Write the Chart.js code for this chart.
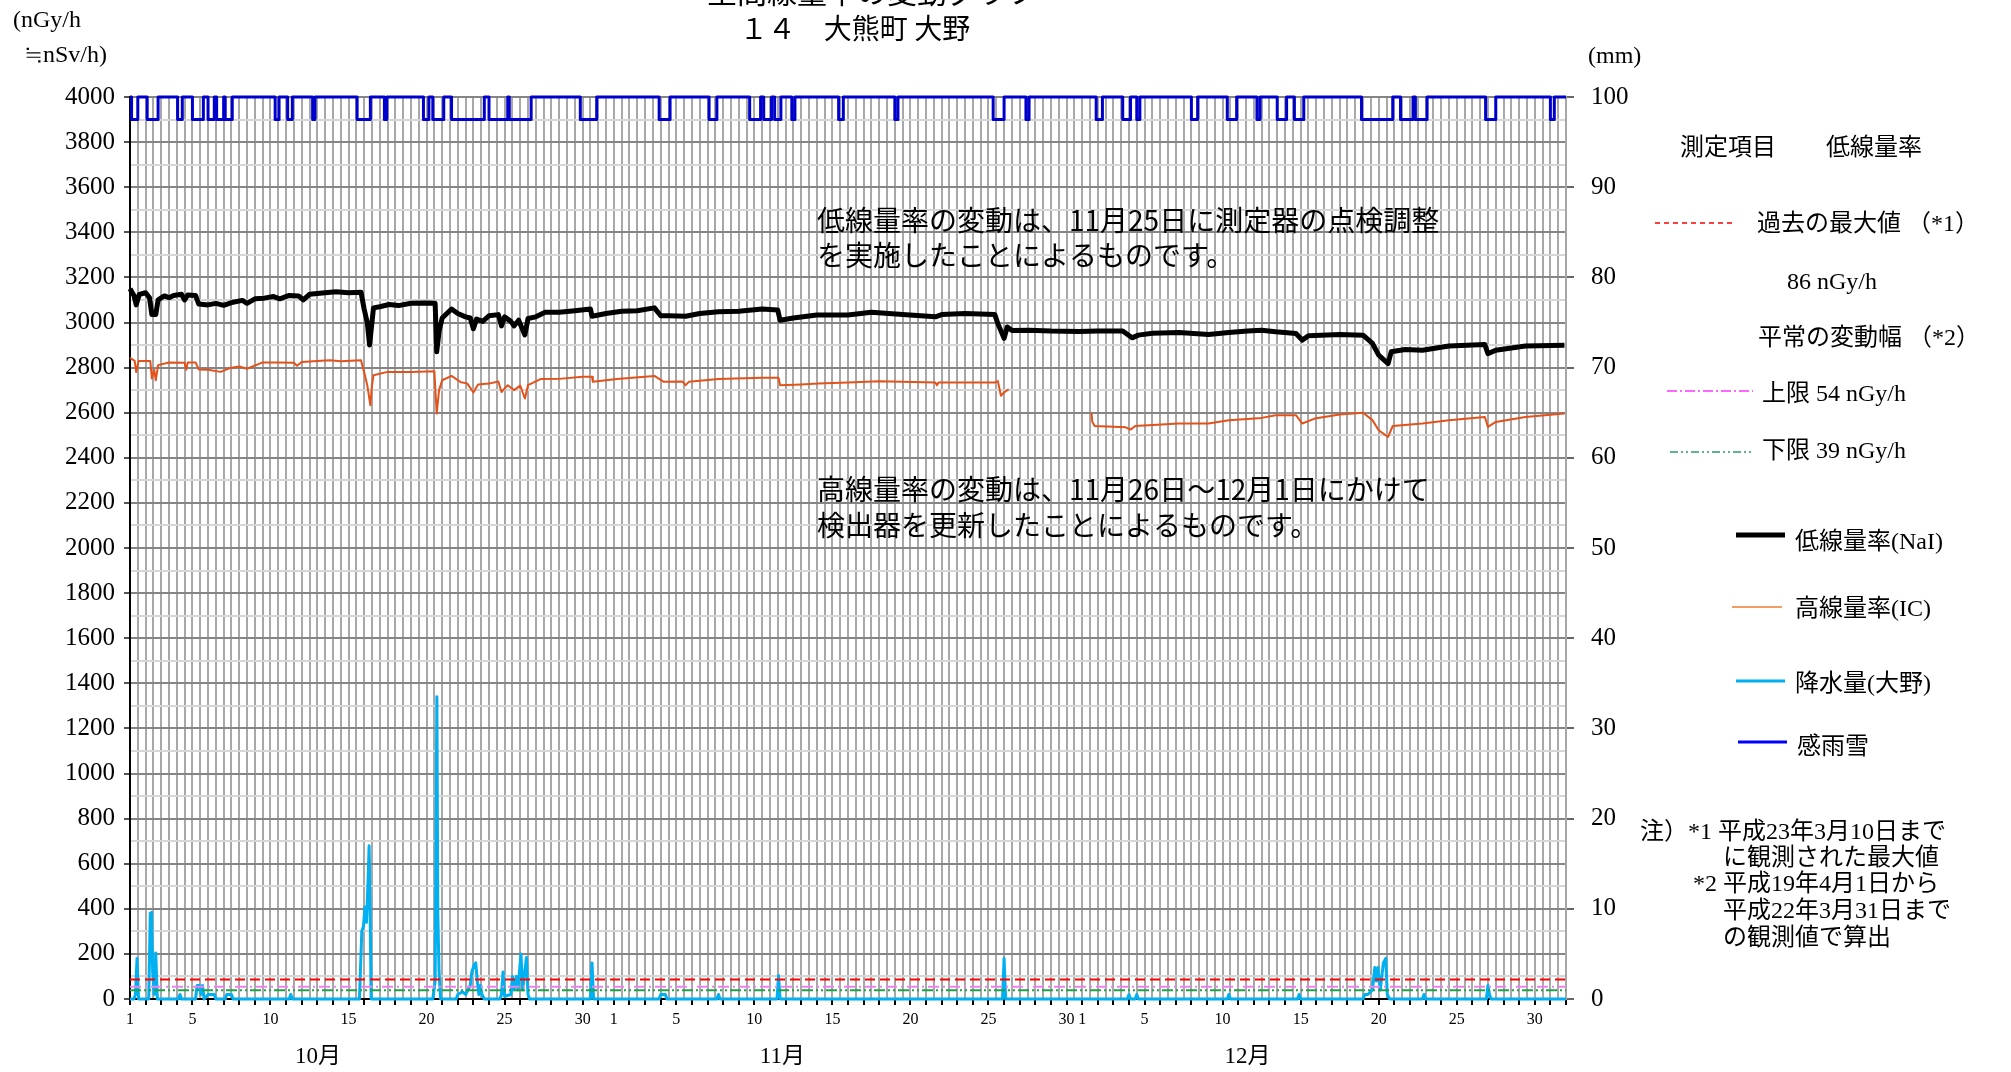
<!DOCTYPE html>
<html lang="ja">
<head>
<meta charset="utf-8">
<title>空間線量率の変動グラフ 14 大熊町 大野</title>
<script src="https://cdn.jsdelivr.net/npm/chart.js@4.4.1/dist/chart.umd.min.js"></script>
<style>
  html, body { margin: 0; padding: 0; background: #fff; }
  #wrap { width: 2011px; height: 1072px; }
</style>
</head>
<body>
<div id="wrap"><canvas id="doseChart" width="2011" height="1072"></canvas></div>
<script>
// x = 10月1日0時からの経過日数
const monthNames = ['10月', '11月', '12月'];
const monthStarts = [0, 31, 61];
const dayLabels = [1, 5, 10, 15, 20, 25, 30];

// 低線量率(NaI) nGy/h
const nalSeries = [
  [0, 3150], [0.25, 3120], [0.4, 3078], [0.6, 3125], [1.0, 3132], [1.25, 3110], [1.4, 3035], [1.65, 3035],
  [1.8, 3100], [2.2, 3118], [2.5, 3110], [2.8, 3120], [3.3, 3125], [3.5, 3100], [3.7, 3122], [4.2, 3120], [4.4, 3082],
  [5.0, 3078], [5.5, 3085], [6.0, 3076], [6.6, 3090], [7.2, 3098], [7.5, 3085], [8.0, 3105], [8.6, 3108],
  [9.2, 3115], [9.6, 3105], [10.2, 3120], [10.8, 3118], [11.1, 3100], [11.5, 3125], [12.5, 3132], [13.2, 3136],
  [14.0, 3132], [14.8, 3134], [15.0, 3060], [15.2, 3000], [15.35, 2900], [15.5, 3000], [15.6, 3065], [16.0, 3070],
  [16.6, 3080], [17.2, 3075], [18.0, 3085], [19.0, 3086], [19.55, 3085], [19.65, 2870], [19.8, 2960], [20.0, 3020],
  [20.6, 3060], [21.0, 3040], [21.5, 3025], [21.8, 3020], [22.0, 2972], [22.2, 3015], [22.6, 3005], [23.0, 3030],
  [23.6, 3035], [23.8, 2985], [24.0, 3025], [24.4, 3005], [24.6, 2985], [24.9, 3010], [25.3, 2945], [25.5, 3018],
  [26.0, 3025], [26.6, 3045], [27.5, 3045], [28.5, 3052], [29.5, 3060], [29.6, 3028], [30.5, 3040], [31.5, 3050],
  [32.5, 3052], [33.6, 3065], [34.0, 3030], [34.5, 3030], [35.6, 3028], [36.5, 3040], [37.7, 3048], [39.0, 3050],
  [40.5, 3060], [41.5, 3055], [41.65, 3010], [42.5, 3020], [44.0, 3033], [46.0, 3033], [47.5, 3045], [49.5, 3035],
  [51.6, 3025], [52.0, 3035], [53.5, 3040], [55.4, 3036], [55.6, 2995], [56.0, 2930], [56.2, 2980], [56.5, 2965],
  [57.6, 2966], [59.0, 2962], [60.8, 2960], [62.0, 2962], [63.6, 2962], [64.2, 2932], [64.6, 2944], [65.5, 2952],
  [67.2, 2956], [69.1, 2947], [70.4, 2956], [71.6, 2962], [72.5, 2966], [73.4, 2959], [74.7, 2951], [75.1, 2922],
  [75.5, 2941], [77.5, 2947], [79.0, 2944], [79.6, 2907], [80.0, 2855], [80.6, 2818], [80.8, 2870], [81.7, 2880],
  [82.8, 2877], [84.5, 2896], [86.8, 2902], [87.0, 2862], [87.5, 2877], [89.4, 2896], [91.9, 2899]
];

// 高線量率(IC) nGy/h  (null = 欠測)
const icSeries = [
  [0, 2843], [0.3, 2830], [0.4, 2780], [0.55, 2829], [1.3, 2829], [1.4, 2752], [1.55, 2790], [1.65, 2744],
  [1.8, 2811], [2.5, 2823], [3.5, 2822], [3.6, 2790], [3.7, 2823], [4.2, 2823], [4.4, 2792], [5.0, 2790],
  [5.8, 2781], [6.4, 2798], [7.0, 2805], [7.5, 2795], [8.5, 2823], [9.5, 2823], [10.5, 2822], [10.7, 2808],
  [11.0, 2825], [12.0, 2829], [12.8, 2833], [13.5, 2828], [14.8, 2833], [15.0, 2780], [15.2, 2722], [15.4, 2633],
  [15.5, 2720], [15.6, 2766], [16.5, 2781], [18.0, 2781], [19.5, 2784], [19.65, 2596], [19.8, 2700], [20.0, 2744],
  [20.6, 2763], [21.2, 2735], [21.6, 2730], [22.0, 2690], [22.3, 2725], [23.0, 2729], [23.6, 2738], [23.8, 2692],
  [24.2, 2722], [24.6, 2700], [25.0, 2720], [25.3, 2663], [25.5, 2722], [26.3, 2749], [27.5, 2750], [29.0, 2759],
  [29.6, 2759], [29.65, 2737], [31.2, 2749], [33.6, 2763], [34.2, 2737], [35.4, 2738], [35.6, 2722], [35.8, 2737],
  [37.7, 2749], [40.5, 2755], [41.55, 2755], [41.65, 2722], [43.0, 2725], [44.1, 2729], [46.0, 2734], [48.0, 2740],
  [51.6, 2734], [51.7, 2722], [51.8, 2734], [55.4, 2734], [55.6, 2740], [55.8, 2675], [56.0, 2690], [56.3, 2704],
  [59.0, null],
  [61.6, 2600], [61.65, 2560], [61.8, 2541], [63.8, 2535], [64.1, 2525], [64.4, 2541], [67.2, 2552], [69.1, 2552],
  [70.4, 2567], [72.5, 2577], [73.4, 2589], [74.7, 2589], [75.1, 2552], [75.9, 2574], [77.5, 2592], [79.0, 2600],
  [79.6, 2567], [80.0, 2522], [80.6, 2493], [80.9, 2541], [82.8, 2552], [84.5, 2567], [86.8, 2581], [87.0, 2537],
  [87.5, 2559], [89.4, 2581], [91.9, 2596]
];

// 降水量(大野) mm
const rainSeries = [
  [0, 0], [0.25, 0], [0.35, 0.5], [0.45, 4.5], [0.55, 0], [1.2, 0], [1.3, 9.5], [1.38, 9.6], [1.45, 3],
  [1.55, 0.5], [1.65, 5.1], [1.75, 0], [3.1, 0], [3.2, 0.5], [3.3, 0], [4.2, 0], [4.3, 1.5], [4.45, 1.5],
  [4.55, 0.5], [4.65, 1.5], [4.75, 0], [5.0, 0.5], [5.4, 0.5], [5.5, 0], [6.1, 0], [6.2, 0.5], [6.5, 0.5],
  [6.6, 0], [10.2, 0], [10.3, 0.5], [10.4, 0], [14.7, 0], [14.85, 7.5], [14.95, 8], [15.06, 10.2], [15.15, 8.5],
  [15.25, 13], [15.32, 17], [15.38, 10], [15.45, 0], [19.4, 0], [19.55, 2], [19.66, 33.5], [19.72, 9.5],
  [19.8, 3], [19.9, 0], [20.9, 0], [21.0, 0.5], [21.3, 0.8], [21.5, 0.5], [21.8, 1.5], [21.9, 3], [22.05, 3.8],
  [22.15, 4], [22.25, 2], [22.35, 0.5], [22.45, 1.5], [22.55, 0.5], [22.7, 0], [23.7, 0], [23.8, 0.5], [23.9, 3],
  [24.0, 0.3], [24.4, 0.5], [24.5, 2.5], [24.6, 1], [24.75, 2.5], [24.85, 1], [25.05, 5], [25.15, 1], [25.4, 4.6],
  [25.5, 0.5], [25.6, 0], [29.5, 0], [29.6, 4], [29.7, 0], [33.9, 0], [34.0, 0.5], [34.3, 0.5], [34.4, 0],
  [37.6, 0], [37.7, 0.5], [37.8, 0], [41.45, 0], [41.55, 2.6], [41.65, 0], [55.9, 0], [56.0, 4.5], [56.1, 0],
  [63.9, 0], [64.0, 0.5], [64.1, 0], [64.4, 0], [64.5, 0.5], [64.6, 0], [70.3, 0], [70.4, 0.5], [70.5, 0],
  [74.8, 0], [74.9, 0.5], [75.0, 0], [79.0, 0], [79.1, 0.5], [79.3, 0.5], [79.6, 1], [79.75, 3.5], [79.85, 2],
  [79.95, 3.5], [80.1, 1], [80.3, 4], [80.45, 4.5], [80.55, 0.5], [80.7, 0], [82.8, 0], [82.9, 0.5], [83.0, 0],
  [86.9, 0], [87.0, 1.5], [87.1, 0.5], [87.2, 0], [92, 0]
];

// 感雨雪 (感雨のあった期間)
const sensorHigh = 100;
const sensorLow = 97.5;
const sensorIntervals = [
  [0.1, 0.5], [1.1, 1.8], [3.05, 3.35], [4.0, 4.7], [5.0, 5.4], [5.55, 6.0], [6.1, 6.55], [9.3, 9.55],
  [10.1, 10.4], [11.7, 11.85], [14.55, 15.4], [16.3, 16.45], [18.8, 19.15], [19.4, 20.1], [20.6, 22.7],
  [23.0, 24.2], [24.3, 25.7], [28.85, 29.9], [33.9, 34.6], [37.1, 37.6], [39.7, 40.4], [40.6, 41.1],
  [41.3, 41.7], [42.4, 42.6], [45.4, 45.7], [49.0, 49.2], [55.3, 56.0], [57.4, 57.6], [61.9, 62.3],
  [63.6, 64.1], [64.5, 64.7], [68.0, 68.4], [70.3, 70.9], [72.2, 72.4], [73.5, 74.1], [74.6, 75.2],
  [78.9, 80.9], [81.4, 82.2], [82.35, 83.1], [86.85, 87.5], [91.0, 91.25]
];

// 基準値 nGy/h
const pastMax = 86;
const normalUpper = 54;
const normalLower = 39;

const legendHeader = ['測定項目', '低線量率'];
const legendTexts = ['過去の最大値 （*1）', '86 nGy/h', '平常の変動幅 （*2）', '上限 54 nGy/h', '下限 39 nGy/h',
  '低線量率(NaI)', '高線量率(IC)', '降水量(大野)', '感雨雪'];
const noteLines = ['注）*1 平成23年3月10日まで', 'に観測された最大値', '*2 平成19年4月1日から',
  '平成22年3月31日まで', 'の観測値で算出'];
const commentLines = ['低線量率の変動は、11月25日に測定器の点検調整', 'を実施したことによるものです。',
  '高線量率の変動は、11月26日～12月1日にかけて', '検出器を更新したことによるものです。'];

const DAYS = 92;
const serif = "'Liberation Serif', 'Noto Sans CJK JP', serif";
const gothic = "'Noto Sans CJK JP', sans-serif";

const toXY = arr => arr.map(p => ({ x: p[0], y: p[1] }));

const sensorData = [{ x: 0, y: sensorHigh }];
sensorIntervals.forEach(([s, e]) => {
  sensorData.push({ x: s, y: sensorHigh }, { x: s, y: sensorLow }, { x: e, y: sensorLow }, { x: e, y: sensorHigh });
});
sensorData.push({ x: DAYS, y: sensorHigh });

const flat = v => [{ x: 0, y: v }, { x: DAYS, y: v }];

function dayOfMonth(v) {
  for (let i = monthStarts.length - 1; i >= 0; i--) {
    if (v >= monthStarts[i]) return v - monthStarts[i] + 1;
  }
  return null;
}

const textPlugin = {
  id: 'texts',
  afterDraw(chart) {
    const c = chart.ctx;
    c.save();
    c.fillStyle = '#000';

    // タイトル
    c.textAlign = 'center';
    c.font = '30px ' + gothic;
    c.textBaseline = 'ideographic';
    c.fillText('空間線量率の変動グラフ', 872, 7);
    c.textBaseline = 'middle';
    c.font = '28px ' + gothic;
    c.fillText('１４　大熊町 大野', 855, 28);

    // 単位
    c.textAlign = 'left';
    c.font = '24px ' + serif;
    c.fillText('(nGy/h', 13, 21);
    c.fillText('≒nSv/h)', 24, 56);
    c.fillText('(mm)', 1588, 57);

    // 月
    const xs = chart.scales.x;
    c.textAlign = 'center';
    c.font = '23px ' + serif;
    [12.05, 41.8, 71.6].forEach((d, i) => c.fillText(monthNames[i], xs.getPixelForValue(d), 1057));

    // 注記(グラフ内)
    c.textAlign = 'left';
    c.font = '28px ' + gothic;
    [220, 255, 489, 525].forEach((y, i) => c.fillText(commentLines[i], 817, y));

    // 凡例
    c.font = '24px ' + serif;
    c.fillText(legendHeader[0], 1680, 149);
    c.fillText(legendHeader[1], 1826, 149);
    const pos = [[1757, 225], [1787, 283], [1758, 339], [1762, 395], [1762, 452],
      [1795, 543], [1795, 610], [1795, 685], [1797, 748]];
    legendTexts.forEach((t, i) => c.fillText(t, pos[i][0], pos[i][1]));

    const swatch = (x1, x2, y, color, w, dash) => {
      c.beginPath();
      c.strokeStyle = color;
      c.lineWidth = w;
      c.setLineDash(dash || []);
      c.moveTo(x1, y);
      c.lineTo(x2, y);
      c.stroke();
    };
    swatch(1655, 1735, 223, '#ff0000', 1.5, [5, 4]);
    swatch(1667, 1753, 391, '#ff33ff', 1.5, [10, 3, 2, 3]);
    swatch(1670, 1754, 452, '#2e9a6a', 1.5, [8, 3, 2, 3, 2, 3]);
    swatch(1736, 1785, 535, '#000000', 5);
    swatch(1732, 1782, 607, '#ed7d31', 1.5);
    swatch(1736, 1785, 681, '#00b0f0', 3);
    swatch(1738, 1787, 742, '#0000ff', 3);
    c.setLineDash([]);

    // 脚注
    c.font = '24px ' + serif;
    const np = [[1640, 833], [1723, 859], [1693, 885], [1723, 912], [1723, 939]];
    noteLines.forEach((t, i) => c.fillText(t, np[i][0], np[i][1]));
    c.restore();
  }
};

new Chart(document.getElementById('doseChart'), {
  type: 'line',
  data: {
    datasets: [
      { label: '感雨雪', data: sensorData, yAxisID: 'y2', borderColor: '#0000cc', borderWidth: 3, order: 0 },
      { label: '低線量率(NaI)', data: toXY(nalSeries), yAxisID: 'y', borderColor: '#000000', borderWidth: 5, order: 1 },
      { label: '高線量率(IC)', data: toXY(icSeries), yAxisID: 'y', borderColor: '#e4521b', borderWidth: 2, order: 2, spanGaps: false },
      { label: '過去の最大値', data: flat(pastMax), yAxisID: 'y', borderColor: '#ff0000', borderWidth: 2, borderDash: [10, 5], order: 3 },
      { label: '上限', data: flat(normalUpper), yAxisID: 'y', borderColor: '#f080f0', borderWidth: 2, borderDash: [11, 4, 2, 4], order: 4 },
      { label: '下限', data: flat(normalLower), yAxisID: 'y', borderColor: '#1fa34a', borderWidth: 2, borderDash: [11, 3, 2, 3, 2, 3], order: 5 },
      { label: '降水量(大野)', data: toXY(rainSeries), yAxisID: 'y2', borderColor: '#00b0f0', borderWidth: 3, order: 6 }
    ]
  },
  options: {
    responsive: false,
    animation: false,
    devicePixelRatio: 1,
    events: [],
    layout: { padding: { left: 0, right: 345, top: 97, bottom: 0 } },
    elements: {
      point: { radius: 0 },
      line: { tension: 0, fill: false, borderCapStyle: 'butt', borderJoinStyle: 'round' }
    },
    datasets: { line: { clip: false } },
    plugins: { legend: { display: false }, tooltip: { enabled: false } },
    scales: {
      x: {
        type: 'linear',
        min: 0,
        max: DAYS,
        afterBuildTicks: s => {
          s.ticks = [];
          for (let i = 0; i <= DAYS * 2; i++) s.ticks.push({ value: i / 2 });
        },
        afterFit: s => { s.height = 73; },
        ticks: {
          autoSkip: false,
          maxRotation: 0,
          padding: 5,
          color: '#000',
          font: { family: serif, size: 16 },
          callback: v => {
            if (!Number.isInteger(v)) return '';
            const d = dayOfMonth(v);
            return dayLabels.includes(d) && v < DAYS ? String(d) : '';
          }
        },
        grid: {
          color: '#a8a8a8',
          lineWidth: 2,
          tickLength: 6,
          tickWidth: 2,
          tickColor: ctx => (ctx.tick && Number.isInteger(ctx.tick.value) ? '#000' : 'rgba(0,0,0,0)')
        },
        border: { color: '#000', width: 2 }
      },
      y: {
        position: 'left',
        min: 0,
        max: 4000,
        afterBuildTicks: s => {
          s.ticks = [];
          for (let v = 0; v <= 4000; v += 100) s.ticks.push({ value: v });
        },
        afterFit: s => { s.width = 130; },
        ticks: {
          autoSkip: false,
          padding: 9,
          color: '#000',
          font: { family: serif, size: 25 },
          callback: v => (v % 200 === 0 ? String(v) : '')
        },
        grid: {
          color: ctx => (ctx.tick && ctx.tick.value % 200 === 0 ? '#858585' : '#d6d6d6'),
          lineWidth: 2,
          tickLength: 6,
          tickColor: ctx => (ctx.tick && ctx.tick.value % 200 === 0 ? '#555' : 'rgba(0,0,0,0)')
        },
        border: { color: '#000', width: 2 }
      },
      y2: {
        position: 'right',
        min: 0,
        max: 100,
        afterFit: s => { s.width = 100; },
        ticks: {
          stepSize: 10,
          padding: 17,
          color: '#000',
          font: { family: serif, size: 25 }
        },
        grid: { drawOnChartArea: false, tickLength: 8, tickColor: '#666', lineWidth: 2 },
        border: { color: '#a6a6a6', width: 2 }
      }
    }
  },
  plugins: [textPlugin]
});
</script>
</body>
</html>
